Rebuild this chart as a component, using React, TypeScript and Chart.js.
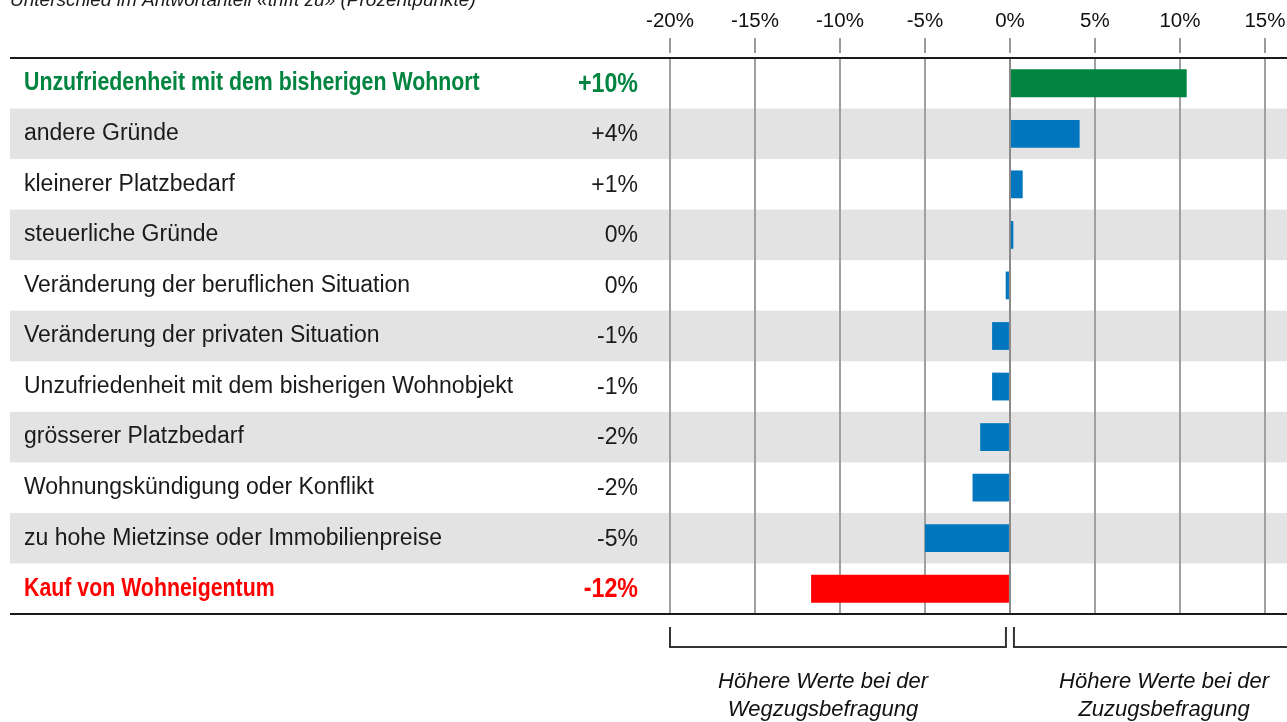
import React, { useEffect, useRef } from "react";
import { Chart, registerables } from "chart.js";

Chart.register(...registerables);

const categories = [
  "Unzufriedenheit mit dem bisherigen Wohnort",
  "andere Gründe",
  "kleinerer Platzbedarf",
  "steuerliche Gründe",
  "Veränderung der beruflichen Situation",
  "Veränderung der privaten Situation",
  "Unzufriedenheit mit dem bisherigen Wohnobjekt",
  "grösserer Platzbedarf",
  "Wohnungskündigung oder Konflikt",
  "zu hohe Mietzinse oder Immobilienpreise",
  "Kauf von Wohneigentum",
];

const values = [10.4, 4.1, 0.75, 0.2, -0.25, -1.05, -1.05, -1.75, -2.2, -5.0, -11.7];

const valueLabels = ["+10%", "+4%", "+1%", "0%", "0%", "-1%", "-1%", "-2%", "-2%", "-5%", "-12%"];

const xTicks = [-20, -15, -10, -5, 0, 5, 10, 15];

const emphasis = [true, false, false, false, false, false, false, false, false, false, true];

const barColors = [
  "#00843f", "#0076be", "#0076be", "#0076be", "#0076be", "#0076be",
  "#0076be", "#0076be", "#0076be", "#0076be", "#ff0000",
];

const textColors = [
  "#00843f", "#1a1a1a", "#1a1a1a", "#1a1a1a", "#1a1a1a", "#1a1a1a",
  "#1a1a1a", "#1a1a1a", "#1a1a1a", "#1a1a1a", "#ff0000",
];

const title = "Unterschied im Antwortanteil «trifft zu» (Prozentpunkte)";
const leftCaption = ["Höhere Werte bei der", "Wegzugsbefragung"];
const rightCaption = ["Höhere Werte bei der", "Zuzugsbefragung"];

const W = 1287;
const H = 722;
const SANS = '"Liberation Sans", Arial, sans-serif';

function condensedText(ctx: any, text: string, x: number, y: number, sx: number, align: string) {
  ctx.save();
  ctx.translate(x, y);
  ctx.scale(sx, 1);
  ctx.textAlign = align;
  ctx.fillText(text, 0, 0);
  ctx.restore();
}

const decorPlugin = {
  id: "decor",
  beforeDraw(chart: any) {
    const { ctx, chartArea } = chart;
    const n = categories.length;
    const band = (chartArea.bottom - chartArea.top) / n;
    const ys = chart.scales.y;
    ctx.save();
    ctx.fillStyle = "#e3e3e3";
    for (let i = 0; i < n; i++) {
      if (i % 2 === 1) {
        const c = ys.getPixelForValue(i);
        ctx.fillRect(10, c - band / 2, W - 10, band);
      }
    }
    ctx.restore();
  },
  afterDraw(chart: any) {
    const { ctx, chartArea } = chart;
    const xs = chart.scales.x;
    const ys = chart.scales.y;
    ctx.save();

    // horizontal rules
    ctx.strokeStyle = "#1a1a1a";
    ctx.lineWidth = 2;
    ctx.beginPath();
    ctx.moveTo(10, chartArea.top);
    ctx.lineTo(W, chartArea.top);
    ctx.moveTo(10, chartArea.bottom);
    ctx.lineTo(W, chartArea.bottom);
    ctx.stroke();

    // tick marks above the top rule
    ctx.strokeStyle = "#9a9a9a";
    ctx.lineWidth = 2;
    ctx.beginPath();
    xTicks.forEach((v) => {
      const x = Math.round(xs.getPixelForValue(v));
      ctx.moveTo(x, 38);
      ctx.lineTo(x, 53);
    });
    ctx.stroke();

    // category labels and value labels
    ctx.textBaseline = "middle";
    categories.forEach((cat, i) => {
      const y = ys.getPixelForValue(i);
      ctx.fillStyle = textColors[i];
      if (emphasis[i]) {
        ctx.font = `bold 26px ${SANS}`;
        condensedText(ctx, cat, 24, y, 0.82, "left");
        ctx.font = `bold 28px ${SANS}`;
        condensedText(ctx, valueLabels[i], 638, y + 1, 0.83, "right");
      } else {
        ctx.font = `23px ${SANS}`;
        ctx.textAlign = "left";
        ctx.fillText(cat, 24, y);
        ctx.textAlign = "right";
        ctx.fillText(valueLabels[i], 638, y + 1);
      }
    });

    // title
    ctx.textAlign = "left";
    ctx.textBaseline = "alphabetic";
    ctx.fillStyle = "#1a1a1a";
    ctx.font = `italic 19px ${SANS}`;
    ctx.fillText(title, 10, 6);

    // brackets
    const x0 = xs.getPixelForValue(0);
    const xL = xs.getPixelForValue(-20);
    ctx.strokeStyle = "#333333";
    ctx.lineWidth = 2;
    ctx.beginPath();
    ctx.moveTo(xL, 627);
    ctx.lineTo(xL, 647);
    ctx.lineTo(x0 - 4, 647);
    ctx.lineTo(x0 - 4, 627);
    ctx.moveTo(x0 + 4, 627);
    ctx.lineTo(x0 + 4, 647);
    ctx.lineTo(W, 647);
    ctx.stroke();

    // captions
    ctx.textAlign = "center";
    ctx.fillStyle = "#111111";
    ctx.font = `italic 22px ${SANS}`;
    ctx.fillText(leftCaption[0], 823, 688);
    ctx.fillText(leftCaption[1], 823, 716);
    ctx.fillText(rightCaption[0], 1164, 688);
    ctx.fillText(rightCaption[1], 1164, 716);

    ctx.restore();
  },
};

export default function App() {
  const ref = useRef<HTMLCanvasElement | null>(null);

  useEffect(() => {
    if (!ref.current) return;
    const chart = new Chart(ref.current, {
      type: "bar",
      data: {
        labels: categories,
        datasets: [
          {
            data: values,
            backgroundColor: barColors,
            borderWidth: 0,
            barPercentage: 0.55,
            categoryPercentage: 1,
          },
        ],
      },
      options: {
        indexAxis: "y",
        animation: false,
        responsive: false,
        maintainAspectRatio: false,
        layout: { padding: { left: 24, top: 0, right: 0, bottom: 108 } },
        plugins: {
          legend: { display: false },
          tooltip: { enabled: false },
        },
        scales: {
          x: {
            type: "linear",
            position: "top",
            min: -20,
            max: 16.3,
            afterBuildTicks: (axis: any) => {
              axis.ticks = xTicks.map((v) => ({ value: v }));
            },
            afterFit: (scale: any) => {
              scale.height = 58;
              scale.paddingLeft = 0;
              scale.paddingRight = 0;
            },
            border: { display: false },
            grid: {
              drawTicks: false,
              lineWidth: 2,
              color: (c: any) => (c.tick && c.tick.value === 0 ? "#8a8a8a" : "#a0a0a0"),
            },
            ticks: {
              padding: 24,
              color: "#111111",
              font: { family: SANS, size: 20.5 },
              callback: (v: any) => `${v}%`,
            },
          },
          y: {
            type: "category",
            afterFit: (scale: any) => {
              scale.width = 646;
              scale.paddingTop = 0;
              scale.paddingBottom = 0;
            },
            border: { display: false },
            grid: { display: false, drawTicks: false },
            ticks: { display: false },
          },
        },
      },
      plugins: [decorPlugin],
    } as any);
    return () => chart.destroy();
  }, []);

  return (
    <div style={{ position: "absolute", left: 0, top: 0, width: W, height: H, background: "#ffffff" }}>
      <canvas ref={ref} width={W} height={H} style={{ display: "block" }} />
    </div>
  );
}
